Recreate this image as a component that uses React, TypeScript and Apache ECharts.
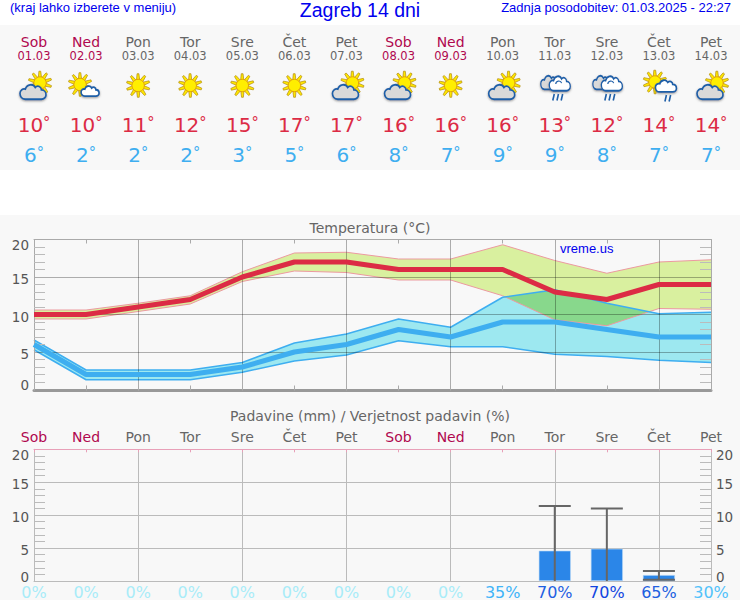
import React, { useEffect, useRef } from "react";
import * as echarts from "echarts";

const dayNames = ["Sob", "Ned", "Pon", "Tor", "Sre", "Čet", "Pet", "Sob", "Ned", "Pon", "Tor", "Sre", "Čet", "Pet"];
const dates = ["01.03", "02.03", "03.03", "04.03", "05.03", "06.03", "07.03", "08.03", "09.03", "10.03", "11.03", "12.03", "13.03", "14.03"];
const icons = ["suncloud", "sunsmall", "sun", "sun", "sun", "sun", "suncloud", "suncloud", "sun", "suncloud", "rain", "rain", "sunrain", "suncloud"];
const maxTemps = [10, 10, 11, 12, 15, 17, 17, 16, 16, 16, 13, 12, 14, 14];
const minTemps = [6, 2, 2, 2, 3, 5, 6, 8, 7, 9, 9, 8, 7, 7];
const maxBandHigh = [10.6, 10.6, 11.5, 12.5, 15.7, 18.2, 18.3, 17.4, 17.4, 19.3, 17.2, 15.5, 17.0, 17.3];
const maxBandLow = [9.4, 9.4, 10.4, 11.4, 14.4, 15.8, 15.6, 14.6, 14.6, 12.5, 9.3, 8.5, 10.8, 10.7];
const minBandHigh = [6.6, 2.6, 2.6, 2.6, 3.6, 6.2, 7.4, 9.4, 8.3, 12.3, 13.3, 11.5, 10.1, 10.3];
const minBandLow = [5.3, 1.3, 1.3, 1.3, 2.3, 3.8, 4.6, 6.5, 5.7, 5.7, 4.7, 4.4, 3.9, 3.6];
const rainMm = [0, 0, 0, 0, 0, 0, 0, 0, 0, 0, 4.6, 4.9, 0.9, 0];
const rainLow = [0, 0, 0, 0, 0, 0, 0, 0, 0, 0, 0, 0, 0.2, 0];
const rainHigh = [0, 0, 0, 0, 0, 0, 0, 0, 0, 0, 11.4, 11.0, 1.5, 0];
const rainChance = [0, 0, 0, 0, 0, 0, 0, 0, 0, 35, 70, 70, 65, 30];
const chanceColors = ["#a8ecf8", "#a8ecf8", "#a8ecf8", "#a8ecf8", "#a8ecf8", "#a8ecf8", "#a8ecf8", "#a8ecf8", "#a8ecf8", "#40b4f8", "#1f5fe2", "#1245e0", "#2060e0", "#52c2fa"];

const FONT = '"DejaVu Sans"';
const ARIAL = '"Liberation Sans"';
const WEEKEND = "#b0084f";
const GRAY = "#666666";
const MAXRED = "#dc2b45";
const MINBLUE = "#3eaef0";
const colX = (i: number) => 34 + (677 / 13) * i;

const CLOUD = "M-10,8 C-15,8 -17,4 -17,1 C-17,-3 -13,-5 -10,-4 C-8,-10 0,-11 3,-6 C6,-9 11,-7 11,-3 C15,-3 17,0 17,3 C17,6 14,8 11,8 Z";
echarts.graphic.registerShape("cloud", echarts.graphic.extendPath(CLOUD as any, {}));

function text(x: number, y: number, s: string, font: string, fill: string, align = "center") {
  return {
    type: "text", x, y, silent: true, z: 10,
    style: { text: s, font, fill, align, textAlign: align, verticalAlign: "middle", textVerticalAlign: "middle" },
  };
}

function degreeText(x: number, y: number, v: number, fill: string) {
  return {
    type: "text", x, y, silent: true, z: 10,
    style: {
      text: `{n|${v}}{d|°}`, fill, align: "center", textAlign: "center", verticalAlign: "middle", textVerticalAlign: "middle",
      rich: {
        n: { fontFamily: FONT, fontSize: 20, fill },
        d: { fontFamily: FONT, fontSize: 14.5, fill, padding: [0, 0, 7, 0] },
      },
    },
  };
}

function sun(x: number, y: number) {
  const rays: any[] = [];
  const n = 10;
  for (let k = 0; k < n; k++) {
    const a = (k / n) * Math.PI * 2 + 0.3;
    const c = Math.cos(a), s = Math.sin(a);
    const px = -s, py = c;
    rays.push({
      type: "polygon",
      shape: {
        points: [
          [5.5 * c + 1.6 * px, 5.5 * s + 1.6 * py],
          [11.8 * c + 0.9 * px, 11.8 * s + 0.9 * py],
          [11.8 * c - 0.9 * px, 11.8 * s - 0.9 * py],
          [5.5 * c - 1.6 * px, 5.5 * s - 1.6 * py],
        ],
      },
      style: { fill: "#ffe800", stroke: "#b08a10", lineWidth: 0.7 },
    });
  }
  rays.push({ type: "circle", shape: { cx: 0, cy: 0, r: 6.2 }, style: { fill: "#ffee00", stroke: "#e09a10", lineWidth: 0.9 } });
  return { type: "group", x, y, z: 5, silent: true, children: rays };
}

function cloud(x: number, y: number, w: number, h: number, fill: string, z = 6) {
  const sx = w / 34, sy = h / 19;
  return {
    type: "cloud", x, y, scaleX: sx, scaleY: sy, z, silent: true,
    style: { fill, stroke: "#1f5fa8", lineWidth: 1.8 / Math.max(sx, sy), shadowBlur: 2, shadowColor: "rgba(90,90,90,0.6)", shadowOffsetY: 1 },
  };
}

function rain(x: number, y: number, count: number) {
  const out: any[] = [];
  for (let k = 0; k < count; k++) {
    out.push({
      type: "line", z: 6, silent: true,
      shape: { x1: x + k * 4.2 + 1.5, y1: y, x2: x + k * 4.2, y2: y + 6.5 },
      style: { stroke: "#1f5fa8", lineWidth: 1.6 },
    });
  }
  return out;
}

function icon(kind: string, cx: number): any[] {
  if (kind === "sun") return [sun(cx, 85.5)];
  if (kind === "suncloud") return [sun(cx + 6, 83), cloud(cx - 1, 92.5, 26, 16, "#d9d9d9")];
  if (kind === "sunsmall") return [sun(cx - 6, 84.5), cloud(cx + 4, 91.5, 18, 11, "#ffffff")];
  if (kind === "rain")
    return [
      cloud(cx - 5, 83, 18, 15, "#d9d9d9", 6),
      cloud(cx + 5, 84, 21, 16, "#ffffff", 7),
      { type: "arc", z: 8, silent: true, shape: { cx: cx + 4, cy: 84, r: 3, startAngle: Math.PI, endAngle: Math.PI * 1.9 }, style: { stroke: "#1f5fa8", lineWidth: 1.2, fill: "none" } },
      ...rain(cx - 2, 94, 3),
    ];
  return [
    sun(cx - 4, 82),
    cloud(cx + 7, 86.5, 21, 13, "#ffffff", 7),
    ...rain(cx + 6, 95, 2),
  ];
}

// overlap of the two bands, computed from the band arrays
function overlapPoints(): { up: number[][]; lo: number[][] } {
  const up: number[][] = [], lo: number[][] = [];
  const at = (arr: number[], i: number, t: number) => arr[i] + (arr[i + 1] - arr[i]) * t;
  const cross = (a: number[], b: number[], i: number) => {
    const d0 = a[i] - b[i], d1 = a[i + 1] - b[i + 1];
    return d0 * d1 < 0 ? d0 / (d0 - d1) : null;
  };
  for (let i = 0; i < maxTemps.length - 1; i++) {
    const ts = [0, 1];
    for (const pair of [[maxBandLow, minBandLow], [maxBandHigh, minBandHigh], [maxBandLow, minBandHigh], [maxBandHigh, minBandLow]]) {
      const t = cross(pair[0], pair[1], i);
      if (t !== null) ts.push(t);
    }
    ts.sort((p, q) => p - q);
    for (const t of ts) {
      const l = Math.max(at(maxBandLow, i, t), at(minBandLow, i, t));
      const h = Math.min(at(maxBandHigh, i, t), at(minBandHigh, i, t));
      if (h >= l - 1e-9) {
        up.push([i + t, h]);
        lo.push([i + t, l]);
      }
    }
  }
  return { up, lo };
}

const subtract = (a: number[], b: number[]) => a.map((v, i) => +(v - b[i]).toFixed(2));
const dayColor = (_: any, i: number) => (dayNames[i] === "Sob" || dayNames[i] === "Ned" ? WEEKEND : GRAY);
const plainLine = (c: string, w: number) => ({ lineStyle: { color: c, width: w } });
const evenDays = (i: number) => i % 2 === 0 && i > 0 && i < 13;
const tickStyle = (padding: number[]) => ({ fontFamily: FONT, fontSize: 13.5, color: "#555555", padding });

function yAxis(gridIndex: number, position: string, labels: boolean, grid: boolean, gridColor: string, frame: string) {
  return {
    type: "value", gridIndex, position, min: 0, max: 20, interval: 5, z: 3,
    axisLine: { show: true, onZero: false, ...plainLine(frame, 1) },
    axisTick: { show: false, inside: true, length: 11 },
    minorTick: { show: true, splitNumber: 5, length: 11, lineStyle: { color: "#bbbbbb", width: 1 } },
    splitLine: { show: grid, lineStyle: { color: gridColor, width: 1 } },
    minorSplitLine: { show: false },
    axisLabel: {
      show: labels, margin: 5, color: "#555555", fontFamily: FONT, fontSize: 13.5,
      formatter: (v: number) => (v === 20 ? `{t|${v}}` : v === 0 ? `{b|${v}}` : `{m|${v}}`),
      rich: { t: tickStyle([11, 0, 0, 0]), m: tickStyle([4, 0, 0, 0]), b: tickStyle([0, 0, 9, 0]) },
    },
  };
}

export default function App() {
  const ref = useRef<HTMLDivElement>(null);
  useEffect(() => {
    const chart = echarts.init(ref.current!, undefined, { renderer: "svg" });
    const header: any[] = [];
    dayNames.forEach((d, i) => {
      const x = colX(i);
      const weekend = d === "Sob" || d === "Ned";
      header.push(text(x, 42.2, d, `14px ${FONT}`, weekend ? WEEKEND : GRAY));
      header.push(text(x, 55.8, dates[i], `11.5px ${FONT}`, weekend ? WEEKEND : GRAY));
      header.push(...icon(icons[i], x));
      header.push(degreeText(x, 125, maxTemps[i], MAXRED));
      header.push(degreeText(x, 155, minTemps[i], MINBLUE));
    });
    const allDays = dayNames;
    const option: any = {
      animation: false,
      backgroundColor: "#ffffff",
      grid: [
        { left: 34, right: 29, top: 239.5, height: 150 },
        { left: 34, right: 29, top: 449.3, height: 132.4 },
      ],
      graphic: [
        { type: "rect", z: -10, silent: true, shape: { x: 0, y: 25, width: 740, height: 145 }, style: { fill: "#f8f8f8" } },
        { type: "rect", z: -10, silent: true, shape: { x: 0, y: 215, width: 740, height: 385 }, style: { fill: "#f8f8f8" } },
        text(10, 7, "(kraj lahko izberete v meniju)", `13px ${ARIAL}`, "#0000ee", "left"),
        text(360, 9.5, "Zagreb 14 dni", `19.5px ${ARIAL}`, "#0000ee"),
        text(731, 7, "Zadnja posodobitev: 01.03.2025 - 22:27", `13px ${ARIAL}`, "#0000ee", "right"),
        text(370, 228, "Temperatura (°C)", `14px ${FONT}`, GRAY),
        text(370, 415.5, "Padavine (mm) / Verjetnost padavin (%)", `14px ${FONT}`, GRAY),
        text(560, 248, "vreme.us", `13px ${ARIAL}`, "#0000ee", "left"),
        ...header,
      ],
      xAxis: [
        {
          type: "category", gridIndex: 0, position: "bottom", boundaryGap: false, data: allDays, z: 3, offset: 1,
          axisLine: { show: true, onZero: false, ...plainLine("#999999", 3) },
          axisTick: { show: true, inside: true, length: 5, alignWithLabel: true, interval: 0, lineStyle: { color: "#aaaaaa" } },
          axisLabel: { show: false },
          splitLine: { show: true, interval: evenDays, lineStyle: { color: "rgba(0,0,0,0.3)", width: 1 } },
        },
        {
          type: "category", gridIndex: 0, position: "top", boundaryGap: false, data: allDays, z: 3,
          axisLine: { show: true, onZero: false, ...plainLine("#aaaaaa", 1) },
          axisTick: { show: true, inside: true, length: 4, interval: 0, lineStyle: { color: "#aaaaaa" } },
          axisLabel: { show: false },
          splitLine: { show: false },
        },
        {
          type: "category", gridIndex: 1, position: "bottom", boundaryGap: false, data: rainChance.map((v) => `${v}%`), z: 3,
          axisLine: { show: true, onZero: false, ...plainLine("#bbbbbb", 1) },
          axisTick: { show: false },
          axisLabel: {
            show: true, interval: 0, margin: 3, fontFamily: FONT, fontSize: 16, hideOverlap: false,
            showMinLabel: true, showMaxLabel: true,
            color: (_: any, i: number) => chanceColors[i],
          },
          splitLine: { show: true, interval: evenDays, lineStyle: { color: "#bbbbbb", width: 1 } },
        },
        {
          type: "category", gridIndex: 1, position: "top", boundaryGap: false, data: allDays, z: 3,
          axisLine: { show: true, onZero: false, ...plainLine("#e8a0b8", 1) },
          axisTick: { show: true, inside: true, length: 3, interval: 0, lineStyle: { color: "#e8a0b8" } },
          axisLabel: {
            show: true, interval: 0, margin: 5, fontFamily: FONT, fontSize: 14,
            showMinLabel: true, showMaxLabel: true, color: dayColor,
          },
          splitLine: { show: false },
        },
      ],
      yAxis: [
        yAxis(0, "left", true, true, "rgba(0,0,0,0.3)", "#aaaaaa"),
        yAxis(0, "right", false, false, "#aaaaaa", "#aaaaaa"),
        yAxis(1, "left", true, true, "#bbbbbb", "#bbbbbb"),
        yAxis(1, "right", true, false, "#bbbbbb", "#bbbbbb"),
      ],
      series: [
        { name: "maxLow", type: "line", stack: "maxBand", z: 2, data: maxBandLow, symbol: "none", lineStyle: { color: "#ec9aa0", width: 1 } },
        {
          name: "maxBand", type: "line", stack: "maxBand", z: 2, data: subtract(maxBandHigh, maxBandLow), symbol: "none",
          lineStyle: { color: "#ec9aa0", width: 1 }, areaStyle: { color: "#d9f09f", opacity: 1 },
        },
        { name: "minLow", type: "line", stack: "minBand", z: 2, data: minBandLow, symbol: "none", lineStyle: { width: 0 } },
        {
          name: "minBand", type: "line", stack: "minBand", z: 2, data: subtract(minBandHigh, minBandLow), symbol: "none",
          lineStyle: { width: 0 }, areaStyle: { color: "#9de8f0", opacity: 1 },
        },
        {
          name: "overlap", type: "custom", z: 2, data: [[0]], clip: true, silent: true,
          renderItem: (_: any, api: any) => {
            const { up, lo } = overlapPoints();
            const x0 = api.coord([0, 0])[0];
            const step = api.coord([1, 0])[0] - x0;
            const pt = (p: number[]) => [x0 + step * p[0], api.coord([0, p[1]])[1]];
            return {
              type: "polygon",
              shape: { points: [...up.map(pt), ...lo.slice().reverse().map(pt)] },
              style: { fill: "#88d88c" },
            };
          },
        },
        { name: "minEdgeLow", type: "line", z: 2, data: minBandLow, symbol: "none", lineStyle: { color: MINBLUE, width: 1.5 } },
        { name: "minEdgeHigh", type: "line", z: 2, data: minBandHigh, symbol: "none", lineStyle: { color: MINBLUE, width: 1.5 } },
        { name: "min", type: "line", z: 5, data: minTemps, symbol: "none", lineStyle: { color: MINBLUE, width: 5 } },
        { name: "max", type: "line", z: 6, data: maxTemps, symbol: "none", lineStyle: { color: MAXRED, width: 5 } },
        {
          name: "rain", type: "bar", xAxisIndex: 2, yAxisIndex: 2, z: 4, data: rainMm.map((v) => (v > 0 ? v : null)), barWidth: 32,
          itemStyle: { color: "#2b86e8", borderColor: "#b8d8f6", borderWidth: 0.6 },
        },
        {
          name: "range", type: "custom", xAxisIndex: 2, yAxisIndex: 2, z: 5, silent: true,
          data: rainHigh.map((h, i) => [i, rainLow[i], h]).filter((d) => d[2] > 0),
          encode: { x: 0, y: [1, 2] },
          renderItem: (_: any, api: any) => {
            const i = api.value(0), lo = api.value(1), hi = api.value(2);
            const a = api.coord([i, hi]), b = api.coord([i, lo]);
            const stroke = { stroke: "#666666", lineWidth: 2 };
            const kids: any[] = [
              { type: "line", shape: { x1: a[0], y1: a[1], x2: b[0], y2: b[1] }, style: stroke },
              { type: "line", shape: { x1: a[0] - 16, y1: a[1], x2: a[0] + 16, y2: a[1] }, style: stroke },
            ];
            if (lo > 0) kids.push({ type: "line", shape: { x1: b[0] - 16, y1: b[1], x2: b[0] + 16, y2: b[1] }, style: stroke });
            return { type: "group", children: kids };
          },
        },
      ],
    };
    chart.setOption(option);
    return () => chart.dispose();
  }, []);
  return <div ref={ref} style={{ position: "fixed", left: 0, top: 0, width: 740, height: 600 }} />;
}
